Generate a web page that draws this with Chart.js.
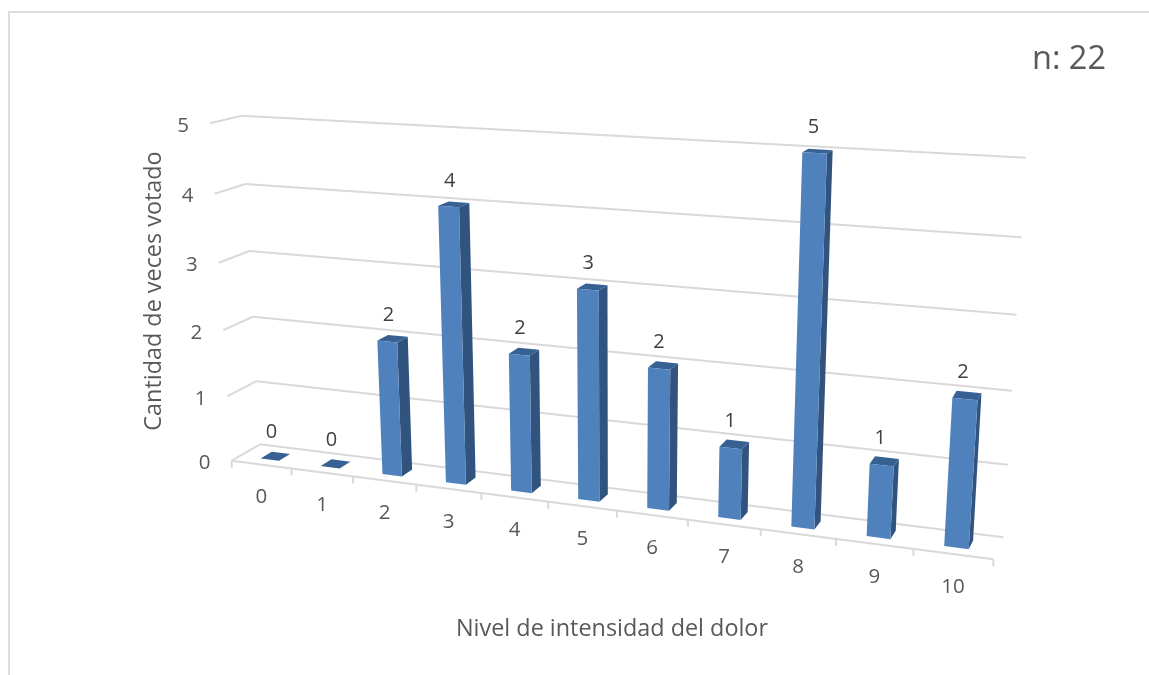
<!DOCTYPE html>
<html>
<head>
<meta charset="utf-8">
<title>Nivel de intensidad del dolor</title>
<script src="https://cdn.jsdelivr.net/npm/chart.js@4/dist/chart.umd.js"></script>
<style>
  html, body { margin: 0; padding: 0; background: #fff; }
  canvas { display: block; }
</style>
</head>
<body>
<canvas id="chart1" width="1149" height="675"></canvas>
<script>
const categories = ['0', '1', '2', '3', '4', '5', '6', '7', '8', '9', '10'];
const votes = [0, 0, 2, 4, 2, 3, 2, 1, 5, 1, 2];
const valueTicks = [0, 1, 2, 3, 4, 5];
const xTitle = 'Nivel de intensidad del dolor';
const yTitle = 'Cantidad de veces votado';
const sampleNote = 'n: 22';

const FONT = '"Open Sans", sans-serif';
const GRID = '#d9d9d9';
const FRONT = '#4f81bd';
const SIDE = '#31547f';
const TOP = '#376192';

// corners of the back wall and of the front plane: bottom-left, bottom-right, top-right, top-left
const backWall = [[260, 444.3], [1003.3, 537.3], [1026, 157.7], [241.7, 115.7]];
const frontWall = [[231.7, 460.7], [993.3, 559.3], [1019, 166.7], [210, 123.3]];
// depth of the bar faces between the two planes
const barBack = 0.3;
const barFront = 0.7;

// unit square to quad
function homography(q) {
  const [[x0, y0], [x1, y1], [x2, y2], [x3, y3]] = q;
  const dx1 = x1 - x2, dx2 = x3 - x2, sx = x0 - x1 + x2 - x3;
  const dy1 = y1 - y2, dy2 = y3 - y2, sy = y0 - y1 + y2 - y3;
  const den = dx1 * dy2 - dx2 * dy1;
  const g = (sx * dy2 - dx2 * sy) / den;
  const h = (dx1 * sy - sx * dy1) / den;
  const a = x1 - x0 + g * x1, b = x3 - x0 + h * x3;
  const d = y1 - y0 + g * y1, e = y3 - y0 + h * y3;
  return (u, v) => {
    const w = g * u + h * v + 1;
    return [(a * u + b * v + x0) / w, (d * u + e * v + y0) / w];
  };
}

const backMap = homography(backWall);
const frontMap = homography(frontWall);

// u, v come from the chart scales, depth 0 is the back wall and 1 the front edge
function project(u, v, depth) {
  const p = backMap(u, v);
  const q = frontMap(u, v);
  return [p[0] + (q[0] - p[0]) * depth, p[1] + (q[1] - p[1]) * depth];
}

function polygon(ctx, pts, color) {
  ctx.beginPath();
  pts.forEach((p, i) => (i ? ctx.lineTo(p[0], p[1]) : ctx.moveTo(p[0], p[1])));
  ctx.closePath();
  ctx.fillStyle = color;
  ctx.fill();
}

function line(ctx, a, b) {
  ctx.beginPath();
  ctx.moveTo(a[0], a[1]);
  ctx.lineTo(b[0], b[1]);
  ctx.stroke();
}

function label(ctx, text, x, y, size, color) {
  ctx.font = size + 'px ' + FONT;
  ctx.fillStyle = color;
  ctx.textAlign = 'center';
  ctx.textBaseline = 'middle';
  ctx.fillText(text, x, y);
}

const perspectivePlugin = {
  id: 'perspective',
  beforeDatasetsDraw(chart) {
    const { ctx, chartArea: area, scales: { x, y } } = chart;
    const toV = (px) => (area.bottom - px) / area.height;

    ctx.save();
    // outer frame
    ctx.strokeStyle = '#dddddd';
    ctx.lineWidth = 2;
    ctx.beginPath();
    ctx.moveTo(9, 675);
    ctx.lineTo(9, 12);
    ctx.lineTo(1149, 12);
    ctx.stroke();

    // value gridlines run along the back wall and down the left side
    ctx.strokeStyle = GRID;
    valueTicks.forEach((tick) => {
      const v = toV(y.getPixelForValue(tick));
      const corner = project(0, v, 0);
      const side = project(0, v, 1);
      line(ctx, project(1, v, 0), corner);
      line(ctx, corner, side);
      label(ctx, String(tick), side[0] - 27, side[1] + 2.5, 20.5, '#595959');
    });

    // floor edge with category ticks
    line(ctx, project(0, 0, 1), project(1, 0, 1));
    const step = x.width / categories.length;
    for (let i = 0; i <= categories.length; i++) {
      const p = project((i * step) / area.width, 0, 1);
      line(ctx, p, [p[0], p[1] + 7]);
    }
    categories.forEach((cat, i) => {
      const p = project((x.getPixelForValue(i) - area.left) / area.width, 0, 1);
      label(ctx, cat, p[0], p[1] + 33, 20.5, '#595959');
    });

    label(ctx, xTitle, 612, 629, 23.4, '#595959');
    ctx.translate(154, 291);
    ctx.rotate(-Math.PI / 2);
    label(ctx, yTitle, 0, 0, 23.4, '#595959');
    ctx.restore();

    ctx.save();
    label(ctx, sampleNote, 1069, 60, 32.5, '#595959');
    ctx.restore();
  },
  afterDatasetsDraw(chart) {
    const { ctx, chartArea: area } = chart;
    const toU = (px) => (px - area.left) / area.width;
    const toV = (px) => (area.bottom - px) / area.height;

    ctx.save();
    chart.getDatasetMeta(0).data.forEach((bar, i) => {
      const u0 = toU(bar.x - bar.width / 2);
      const u1 = toU(bar.x + bar.width / 2);
      const top = toV(bar.y);
      const base = toV(bar.base);

      // right side, then top, then front
      polygon(ctx, [project(u1, base, barFront), project(u1, base, barBack), project(u1, top, barBack), project(u1, top, barFront)], SIDE);
      polygon(ctx, [project(u0, top, barFront), project(u1, top, barFront), project(u1, top, barBack), project(u0, top, barBack)], TOP);
      if (votes[i] > 0) {
        polygon(ctx, [project(u0, base, barFront), project(u1, base, barFront), project(u1, top, barFront), project(u0, top, barFront)], FRONT);
      }

      const c = project(toU(bar.x), top, (barFront + barBack) / 2);
      label(ctx, String(votes[i]), c[0] - 4, c[1] - 23.5, 20, '#404040');
    });
    ctx.restore();
  }
};

new Chart(document.getElementById('chart1'), {
  type: 'bar',
  data: {
    labels: categories,
    datasets: [{
      label: yTitle,
      data: votes,
      backgroundColor: 'transparent',
      borderWidth: 0,
      categoryPercentage: 1,
      barPercentage: 0.31
    }]
  },
  options: {
    responsive: false,
    animation: false,
    events: [],
    plugins: {
      legend: { display: false },
      tooltip: { enabled: false }
    },
    scales: {
      x: { display: false },
      y: { display: false, min: 0, max: 5 }
    }
  },
  plugins: [perspectivePlugin]
});
</script>
</body>
</html>
